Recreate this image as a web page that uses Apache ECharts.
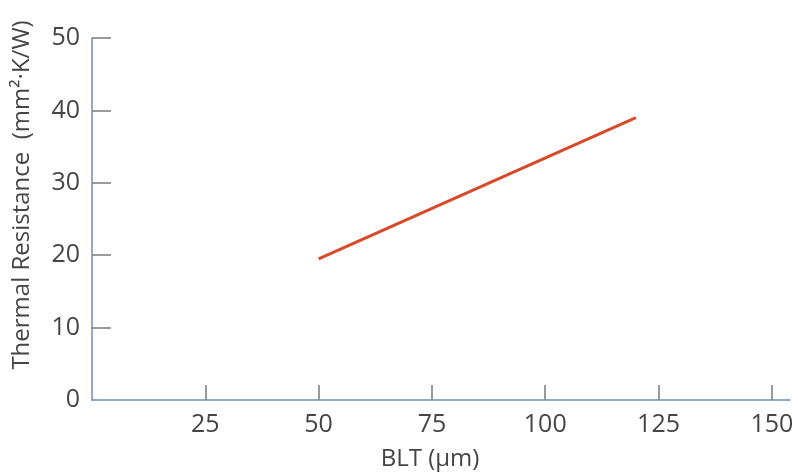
<!DOCTYPE html>
<html>
<head>
<meta charset="utf-8">
<script src="https://cdn.jsdelivr.net/npm/echarts@6/dist/echarts.min.js"></script>
<style>
html,body{margin:0;padding:0;background:#ffffff;}
#chart{width:798px;height:472px;}
</style>
</head>
<body>
<div id="chart"></div>
<script>
// Data
var blt = [50, 120];
var resistance = [19.5, 39.0];
var xTicks = [25, 50, 75, 100, 125, 150];
var yTicks = [10, 20, 30, 40, 50];
var yLabels = [0, 10, 20, 30, 40, 50];
var xTitle = 'BLT (\u03bcm)';
var yTitle = 'Thermal Resistance  (mm\u00b2\u00b7K/W)';

var FONT = 'Open Sans';
var chart = echarts.init(document.getElementById('chart'), null, {renderer: 'canvas'});
var axisColor = '#6f8dbb';
var tickColor = '#7a7a7a';
var labelColor = '#454545';

chart.setOption({
  backgroundColor: '#ffffff',
  animation: false,
  grid: {left: 92, right: 8, top: 38, bottom: 72, containLabel: false},
  xAxis: {
    type: 'value', min: 0, max: 154,
    axisLine: {show: true, lineStyle: {color: axisColor, width: 1.5}},
    axisTick: {show: true, inside: true, length: 15, customValues: xTicks, lineStyle: {color: tickColor, width: 1.5}},
    axisLabel: {show: true, customValues: xTicks, margin: 12, color: labelColor, fontSize: 25, fontFamily: FONT},
    splitLine: {show: false}
  },
  yAxis: {
    type: 'value', min: 0, max: 50,
    axisLine: {show: true, lineStyle: {color: axisColor, width: 1.5}},
    axisTick: {show: true, inside: true, length: 19, customValues: yTicks, lineStyle: {color: tickColor, width: 1.5}},
    axisLabel: {show: true, customValues: yLabels, margin: 12, color: labelColor, fontSize: 25, fontFamily: FONT},
    splitLine: {show: false}
  },
  graphic: [
    {type: 'text', x: 430, y: 459, style: {text: xTitle, fill: labelColor, font: '24px "' + FONT + '"', textAlign: 'center', textVerticalAlign: 'middle'}},
    {type: 'text', x: 22, y: 195, rotation: Math.PI / 2, style: {text: yTitle, fill: labelColor, font: '24px "' + FONT + '"', textAlign: 'center', textVerticalAlign: 'middle'}}
  ],
  series: [{
    type: 'line',
    data: blt.map(function (x, i) { return [x, resistance[i]]; }),
    symbol: 'none',
    lineStyle: {color: '#d8482a', width: 3},
    silent: true
  }]
});
</script>
</body>
</html>
